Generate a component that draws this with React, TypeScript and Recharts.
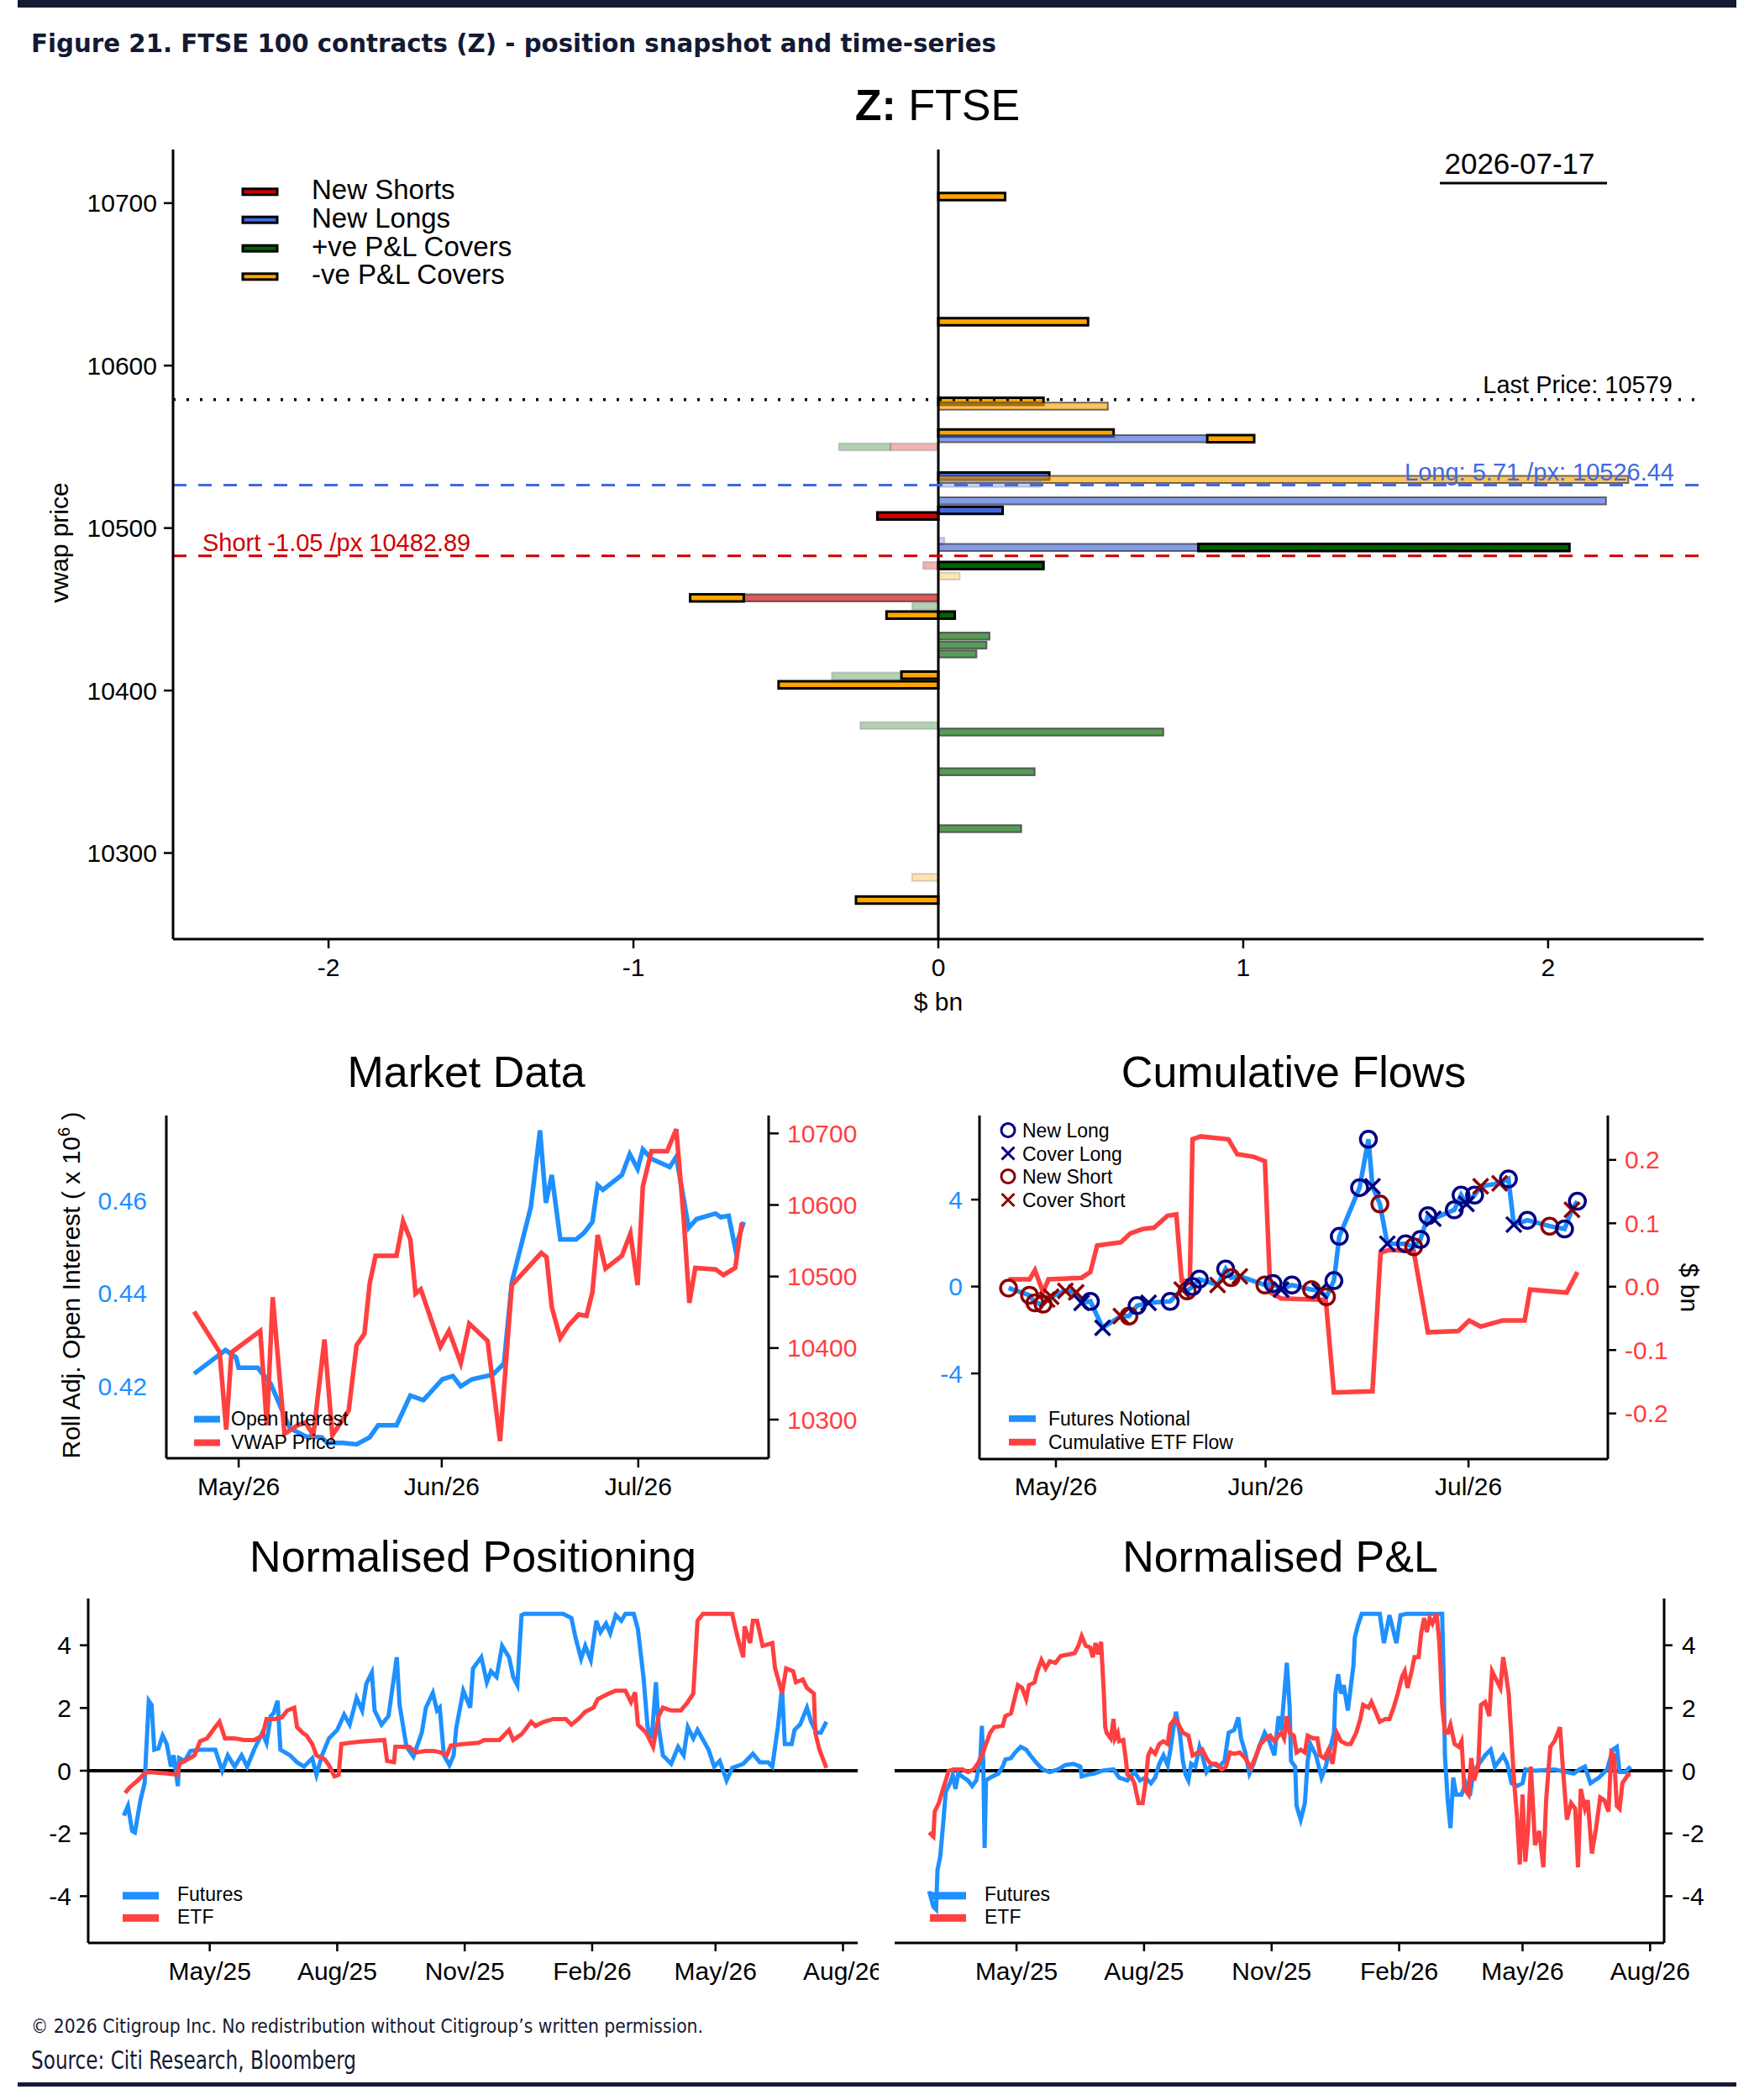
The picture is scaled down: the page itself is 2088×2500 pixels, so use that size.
import React from "react";
import {
  ComposedChart,
  LineChart,
  Line,
  XAxis,
  YAxis,
  ReferenceLine,
  ReferenceArea,
} from "recharts";

const FONT = '"Liberation Sans", Arial, Helvetica, sans-serif';
const NARROW = '"Liberation Sans Narrow", "DejaVu Sans Condensed", "Liberation Sans", sans-serif';
const NAVY = "#141a33";
const BLUE = "#1E90FF";
const RED = "#FF4040";
const NAVY_MK = "#000080";
const DARKRED = "#8B0000";

// ---- snapshot: position buckets by vwap price ($ bn) ----
const lastPrice = 10579;
const longVwap = 10526.44;
const shortVwap = 10482.89;
const snapshotDate = "2026-07-17";

const snapKinds = ["New Shorts", "New Longs", "+ve P&L Covers", "-ve P&L Covers"];
const kindColors = ["#CC0000", "#4169E1", "#006400", "#FFA500"];

// kind index into snapKinds, age 0 = latest day, 1 = recent, 2 = older
const snapPrice = [10704, 10627, 10578, 10575, 10558.5, 10555, 10555, 10550, 10550, 10532, 10530, 10527.5, 10516.7, 10511, 10507.5, 10492, 10488, 10488, 10477, 10477, 10470.5, 10457, 10457, 10452, 10446.5, 10446.5, 10433.5, 10428, 10422.5, 10409, 10409.5, 10403.5, 10378.5, 10374.5, 10350, 10315, 10285, 10271];
const snapFrom = [0, 0, 0, 0, 0, 0, 0.882, -0.157, -0.326, 0, 0, 0, 0, 0, -0.2, 0, 0, 0.853, -0.05, 0, 0, -0.638, -0.814, -0.086, -0.17, 0, 0, 0, 0, -0.349, -0.121, -0.524, -0.256, 0, 0, 0, -0.086, -0.27];
const snapTo = [0.219, 0.491, 0.345, 0.556, 0.575, 0.882, 1.036, 0, -0.157, 0.364, 2.263, 0.336, 2.19, 0.211, 0, 0.02, 0.853, 2.07, 0, 0.345, 0.07, 0, -0.638, 0, 0, 0.054, 0.168, 0.158, 0.125, 0, 0, 0, 0, 0.738, 0.316, 0.272, 0, 0];
const snapKind = [3, 3, 3, 3, 3, 1, 3, 0, 2, 1, 3, 1, 1, 1, 0, 1, 1, 2, 0, 2, 3, 0, 3, 2, 3, 2, 2, 2, 2, 2, 3, 3, 2, 2, 2, 2, 3, 3];
const snapAge = [0, 0, 0, 1, 0, 1, 0, 2, 2, 0, 1, 2, 1, 0, 0, 2, 1, 0, 2, 0, 2, 1, 0, 2, 0, 0, 1, 1, 1, 2, 0, 0, 2, 1, 1, 1, 2, 0];

const snapXTicks = [-2, -1, 0, 1, 2];
const snapYTicks = [10300, 10400, 10500, 10600, 10700];

const SNAP_HALF = 2.2; // half bar thickness in price points
const AGE_ALPHA = [1, 0.65, 0.3];
const AGE_STROKE = ["#000", "#333", "#888"];
const AGE_STROKE_ALPHA = [1, 0.7, 0.35];
const AGE_STROKE_W = [3, 2, 2];

// ---- market data (x = days from 1 May 2026) ----
const SHORT_BASE = "2026-05-01";
const shortTickDates = ["2026-05-01", "2026-06-01", "2026-07-01"];
const shortTickLabels = ["May/26", "Jun/26", "Jul/26"];

const openInterest: [number, number][] = [
  [-6.8, 0.4227], [-2.0, 0.4278], [-0.4, 0.4262], [0.0, 0.424], [2.9, 0.424], [4.9, 0.4205],
  [7.8, 0.411], [10.2, 0.4092], [12.7, 0.409], [13.5, 0.4078], [15.9, 0.4078], [18.0, 0.4075],
  [20.0, 0.409], [21.3, 0.4116], [24.1, 0.4116], [26.2, 0.418], [28.2, 0.417], [31.1, 0.4215],
  [32.7, 0.4222], [33.9, 0.42], [35.6, 0.4215], [38.8, 0.4225], [40.5, 0.4249], [41.7, 0.4424],
  [44.6, 0.4586], [46.0, 0.4751], [46.9, 0.4595], [47.8, 0.4655], [49.1, 0.4516], [51.5, 0.4516],
  [52.7, 0.453], [54.0, 0.4554], [54.8, 0.4633], [55.6, 0.4623], [58.5, 0.4655], [59.7, 0.47],
  [60.9, 0.4668], [61.7, 0.471], [63.0, 0.469], [65.8, 0.4672], [66.8, 0.4694], [68.7, 0.4541],
  [69.9, 0.456], [72.8, 0.4572], [73.6, 0.4564], [74.8, 0.4567], [75.8, 0.4497], [77.1, 0.4554],
];

const vwapPrice: [number, number][] = [
  [-6.8, 10451], [-3.7, 10406], [-2.9, 10394], [-1.9, 10286], [-1.1, 10394], [3.3, 10424],
  [4.3, 10292], [5.2, 10471], [7.0, 10280], [9.0, 10292], [10.2, 10296], [11.4, 10278],
  [13.1, 10412], [14.3, 10278], [16.8, 10313], [18.0, 10404], [19.2, 10420], [20.0, 10490],
  [20.9, 10529], [24.1, 10529], [25.1, 10577], [26.2, 10552], [27.0, 10476], [27.8, 10482],
  [30.8, 10402], [32.1, 10424], [33.9, 10379], [35.2, 10434], [38.0, 10410], [39.9, 10270],
  [41.7, 10488], [46.2, 10533], [47.0, 10527], [47.8, 10457], [49.1, 10414], [50.3, 10431],
  [51.9, 10447], [53.1, 10445], [54.0, 10478], [54.8, 10558], [56.0, 10511], [58.5, 10529],
  [59.8, 10560], [60.9, 10488], [61.7, 10626], [63.0, 10675], [65.4, 10675], [66.8, 10706],
  [67.9, 10585], [68.8, 10463], [69.7, 10512], [72.8, 10510], [74.0, 10502], [75.8, 10512],
  [76.8, 10575],
];

// ---- cumulative flows: futures notional with trade type, ETF flow ($ bn) ----
const flowTypes = ["New Long", "Cover Long", "New Short", "Cover Short"];
const futuresNotional: [number, number, number][] = [
  [-7.0, -0.07, 2], [-3.9, -0.4, 2], [-3.1, -0.75, 2], [-1.9, -0.81, 2], [-1.3, -0.6, 3],
  [-0.7, -0.47, 3], [1.4, -0.2, 3], [3.0, -0.27, 3], [3.8, -0.75, 1], [5.1, -0.68, 0],
  [6.9, -1.9, 1], [9.6, -1.36, 3], [10.8, -1.36, 2], [12.0, -0.88, 0], [13.7, -0.75, 1],
  [16.9, -0.68, 0], [18.6, -0.14, 3], [19.4, -0.2, 2], [20.2, 0.0, 0], [21.2, 0.34, 0],
  [23.9, 0.07, 3], [25.1, 0.81, 0], [25.9, 0.41, 2], [27.2, 0.47, 3], [30.9, 0.07, 2],
  [32.1, 0.14, 0], [33.3, -0.14, 1], [34.9, 0.07, 0], [37.8, -0.14, 2], [39.0, -0.2, 1],
  [40.0, -0.47, 2], [41.1, 0.27, 0], [41.9, 2.31, 0], [44.9, 4.55, 0], [46.2, 6.78, 0],
  [46.8, 4.61, 1], [47.9, 3.8, 2], [49.0, 1.97, 1], [51.7, 1.97, 0], [52.9, 1.83, 2],
  [53.9, 2.17, 0], [55.0, 3.26, 0], [55.8, 3.12, 1], [58.9, 3.53, 0], [59.9, 4.21, 0],
  [60.7, 3.8, 1], [61.9, 4.21, 0], [62.8, 4.61, 3], [65.6, 4.75, 3], [66.9, 4.95, 0],
  [67.7, 2.85, 1], [69.7, 3.05, 0], [73.0, 2.78, 2], [75.2, 2.65, 0], [76.3, 3.53, 3],
  [77.1, 3.93, 0],
];

const etfFlow: [number, number][] = [
  [-7.0, 0.0116], [-3.9, 0.0116], [-3.1, 0.026], [-1.9, -0.009], [-1.1, 0.0116], [3.8, 0.014],
  [5.1, 0.023], [6.1, 0.065], [9.6, 0.07], [11.0, 0.084], [12.8, 0.091], [14.5, 0.093],
  [16.5, 0.112], [17.8, 0.114], [18.6, 0.0093], [19.8, 0.0093], [20.2, 0.2326], [21.4, 0.237],
  [25.5, 0.2326], [26.8, 0.209], [29.2, 0.205], [30.9, 0.198], [31.7, -0.009], [33.3, -0.0186],
  [39.9, -0.021], [41.1, -0.167], [46.8, -0.165], [48.0, 0.0535], [49.3, 0.058], [52.9, 0.056],
  [55.0, -0.072], [59.5, -0.07], [61.1, -0.0535], [62.8, -0.063], [66.0, -0.0535], [69.3, -0.0535],
  [70.1, -0.0047], [75.5, -0.0093], [77.1, 0.023],
];

// ---- normalised series (x = days from 1 May 2025) ----
const LONG_BASE = "2025-05-01";
const longTickDates = ["2025-05-01", "2025-08-01", "2025-11-01", "2026-02-01", "2026-05-01", "2026-08-01"];
const longTickLabels = ["May/25", "Aug/25", "Nov/25", "Feb/26", "May/26", "Aug/26"];

const posFutures: [number, number][] = [
  [-62, -1.43], [-59, -1.12], [-56, -1.92], [-54, -1.97], [-50, -0.94], [-47, -0.4], [-44, 2.23],
  [-42, 2.1], [-40, 0.67], [-37, 0.71], [-34, 1.12], [-31, 0.85], [-28, 0.13], [-26, 0.49],
  [-23, -0.49], [-22, 0.4], [-18, 0.31], [-14, 0.63], [-7, 0.67], [4, 0.67], [9, 0], [13, 0.49],
  [18, 0.13], [23, 0.49], [27, 0.13], [32, 0.67], [38, 1.21], [41, 0.89], [44, 1.74], [46, 1.83],
  [49, 2.23], [51, 0.67], [58, 0.49], [63, 0.27], [68, 0.13], [74, 0.4], [77, -0.13], [81, 0.49],
  [86, 1.03], [92, 1.3], [97, 1.79], [101, 1.47], [106, 2.32], [110, 1.92], [113, 2.77], [117, 3.13],
  [119, 1.92], [124, 1.47], [129, 1.74], [135, 3.62], [137, 2.1], [142, 0.76], [147, 0.45],
  [153, 1.21], [156, 2.01], [161, 2.48], [164, 1.92], [166, 2.01], [169, 0.49], [173, 0.18],
  [176, 0.49], [178, 1.39], [183, 2.55], [188, 2.01], [190, 3.26], [196, 3.62], [200, 2.82],
  [203, 3.17], [207, 2.99], [211, 3.98], [216, 3.62], [219, 2.99], [222, 2.73], [225, 4.96],
  [227, 5.0], [255, 5.0], [261, 4.87], [264, 4.24], [268, 3.57], [271, 3.98], [275, 3.53],
  [279, 4.78], [282, 4.42], [286, 4.69], [289, 4.38], [293, 4.96], [297, 4.78], [300, 5.0],
  [306, 5.0], [309, 4.51], [313, 2.99], [316, 1.39], [319, 1.03], [322, 2.82], [324, 1.39],
  [327, 0.49], [333, 0.22], [338, 0.76], [342, 0.49], [345, 1.39], [349, 1.03], [352, 1.3],
  [360, 0.67], [364, 0.13], [368, 0.31], [373, -0.31], [377, 0.09], [385, 0.22], [392, 0.54],
  [397, 0.27], [403, 0.27], [406, 0.13], [410, 1.39], [413, 2.64], [415, 0.85], [420, 0.85],
  [422, 1.3], [426, 1.47], [431, 2.01], [434, 1.56], [438, 1.21], [441, 1.21], [445, 1.56],
];

const posEtf: [number, number][] = [
  [-61, -0.71], [-58, -0.54], [-52, -0.31], [-47, -0.09], [-45, -0.04], [-31, -0.09], [-23, -0.13],
  [-22, 0.22], [-16, 0.36], [-11, 0.49], [-7, 0.94], [-2, 1.03], [4, 1.39], [7, 1.56], [11, 1.03],
  [18, 1.03], [25, 0.98], [32, 0.98], [38, 1.12], [41, 1.65], [47, 1.65], [52, 1.7], [56, 1.92],
  [61, 2.01], [63, 1.39], [67, 1.21], [70, 1.12], [74, 0.85], [77, 0.49], [83, 0.36], [86, 0.18],
  [90, -0.18], [93, -0.13], [95, 0.85], [101, 0.89], [111, 0.94], [126, 0.98], [128, 0.31],
  [133, 0.27], [134, 0.76], [144, 0.76], [149, 0.58], [155, 0.63], [162, 0.63], [167, 0.58],
  [171, 0.49], [174, 0.8], [183, 0.85], [194, 0.89], [198, 0.98], [209, 0.98], [216, 1.3],
  [219, 0.98], [225, 1.16], [232, 1.56], [235, 1.43], [241, 1.56], [248, 1.65], [257, 1.65],
  [261, 1.47], [266, 1.65], [271, 1.88], [277, 2.01], [280, 2.28], [288, 2.46], [293, 2.55],
  [300, 2.55], [304, 2.19], [307, 2.5], [309, 1.47], [315, 1.21], [320, 0.76], [324, 1.74],
  [327, 2.01], [333, 1.92], [340, 1.92], [345, 2.19], [349, 2.46], [352, 4.78], [356, 5.0],
  [377, 5.0], [381, 4.24], [385, 3.62], [386, 4.6], [390, 4.07], [392, 4.78], [395, 4.78],
  [399, 3.98], [406, 4.07], [408, 3.26], [412, 2.64], [413, 2.46], [416, 3.26], [421, 3.17],
  [423, 2.82], [428, 2.91], [431, 2.64], [436, 2.46], [437, 1.21], [440, 0.67], [445, 0.09],
];

const pnlFutures: [number, number][] = [
  [-63, -3.84], [-60, -4.33], [-58, -4.42], [-57, -3.17], [-55, -2.73], [-53, -1.74], [-51, -0.67],
  [-48, -0.4], [-46, -0.13], [-44, -0.58], [-42, -0.09], [-38, -0.22], [-35, -0.31], [-32, -0.49],
  [-29, -0.31], [-26, 0.45], [-25, 1.43], [-24, 0.31], [-23, -2.46], [-22, -0.31], [-19, -0.22],
  [-13, -0.09], [-10, 0.13], [-8, 0.36], [-4, 0.4], [-1, 0.58], [3, 0.76], [7, 0.67], [10, 0.49],
  [14, 0.27], [19, 0.04], [24, -0.04], [30, 0.04], [35, 0.18], [41, 0.22], [46, 0.13], [47, -0.18],
  [51, -0.13], [56, -0.09], [62, 0], [70, 0.04], [74, -0.22], [80, -0.31], [85, -0.04], [89, -0.31],
  [93, -0.22], [97, -0.4], [100, -0.22], [103, 0.22], [106, 0.49], [109, 0.18], [111, 0.67],
  [113, 1.3], [115, 1.88], [118, 1.12], [120, 0.31], [122, -0.13], [124, -0.31], [126, 0.22],
  [129, 0.13], [132, 0.76], [134, 0.49], [137, -0.04], [141, 0.22], [146, 0.13], [150, 0.31],
  [153, 1.21], [157, 1.3], [160, 1.7], [162, 1.03], [165, 0.58], [168, -0.09], [171, 0.22],
  [175, 0.76], [179, 1.21], [182, 0.98], [186, 0.49], [189, 1.74], [191, 1.3], [195, 3.44],
  [197, 2.01], [198, 0.31], [201, 0.13], [202, -1.12], [205, -1.56], [208, -1.03], [210, 0.31],
  [212, 0.85], [216, 0.49], [220, -0.22], [223, 0.13], [226, 0.67], [229, 1.21], [230, 2.46],
  [232, 3.08], [234, 2.46], [236, 2.73], [239, 1.92], [241, 2.64], [243, 3.35], [244, 4.24],
  [246, 4.6], [249, 5.0], [262, 5.0], [265, 4.07], [267, 4.51], [269, 4.96], [271, 4.6],
  [274, 4.07], [277, 4.96], [281, 5.0], [307, 5.0], [308, 3.17], [309, 0.49], [311, -0.94],
  [313, -1.83], [315, -0.22], [317, -0.76], [321, -0.76], [324, -0.4], [327, -0.8], [329, -0.22],
  [332, 0.13], [335, 0.31], [338, 0.49], [342, 0.67], [345, 0.13], [348, 0.31], [351, 0.49],
  [354, 0.22], [357, -0.4], [361, -0.49], [365, -0.4], [367, 0.04], [374, 0], [388, 0.04],
  [402, -0.09], [406, 0.04], [410, 0.13], [414, -0.4], [420, -0.22], [426, 0.04], [430, 0.67],
  [433, 0.76], [435, -0.04], [439, -0.04], [443, 0.13],
];

const pnlEtf: [number, number][] = [
  [-63, -1.97], [-60, -2.1], [-59, -1.3], [-56, -1.03], [-53, -0.58], [-51, -0.31], [-49, 0],
  [-45, 0.04], [-39, 0.04], [-35, -0.04], [-31, 0.04], [-28, 0.22], [-25, 0.49], [-22, 0.85],
  [-19, 1.21], [-16, 1.39], [-10, 1.43], [-8, 1.74], [-4, 1.83], [-2, 2.19], [1, 2.73], [4, 2.64],
  [7, 2.28], [9, 2.73], [13, 2.82], [15, 3.17], [18, 3.53], [21, 3.26], [24, 3.49], [28, 3.44],
  [32, 3.66], [38, 3.71], [42, 3.75], [45, 4.02], [47, 4.29], [50, 3.98], [53, 3.93], [55, 3.62],
  [57, 4.07], [59, 3.71], [61, 4.11], [63, 2.46], [64, 1.39], [65, 1.21], [68, 1.03], [70, 1.65],
  [71, 1.03], [73, 1.21], [74, 0.94], [77, 0.98], [79, 0.31], [80, -0.13], [83, -0.22], [85, -0.4],
  [88, -1.03], [91, -1.03], [93, -0.4], [95, 0.49], [97, 0.67], [100, 0.54], [103, 0.85], [106, 0.94],
  [109, 0.85], [111, 1.47], [114, 1.65], [117, 1.47], [120, 1.21], [124, 1.12], [127, 0.49],
  [131, 0.58], [134, 0.67], [137, 0.4], [140, 0.22], [144, 0.22], [148, 0.04], [151, 0.13],
  [154, 0.58], [157, 0.54], [161, 0.58], [165, 0.4], [169, 0.09], [172, 0.4], [176, 0.85],
  [180, 1.03], [183, 1.12], [186, 0.94], [189, 1.12], [191, 1.21], [193, 1.03], [195, 1.74],
  [197, 1.21], [200, 1.12], [202, 0.58], [205, 0.67], [208, 0.58], [210, 1.12], [214, 1.03],
  [217, 1.03], [219, 0.49], [222, 0.4], [225, 0.67], [228, 0.22], [231, 1.21], [234, 0.94],
  [238, 0.85], [241, 0.85], [245, 1.21], [248, 1.65], [250, 2.1], [254, 2.01], [256, 2.19],
  [259, 1.88], [262, 1.56], [266, 1.65], [269, 1.65], [272, 2.01], [275, 2.46], [278, 2.99],
  [280, 3.17], [282, 2.64], [285, 3.17], [287, 3.62], [290, 3.62], [292, 4.42], [294, 4.87],
  [296, 4.42], [298, 4.87], [300, 4.69], [303, 5.0], [305, 4.07], [307, 2.1], [309, 1.21],
  [311, 1.21], [313, 1.47], [316, 0.85], [319, 0.76], [321, 0.94], [323, -0.58], [326, -0.76],
  [328, 0.4], [330, -0.31], [333, 0.13], [335, 2.1], [338, 2.19], [341, 1.74], [343, 3.17],
  [346, 2.9], [349, 2.64], [351, 3.62], [353, 3.08], [355, 2.46], [357, 1.03], [359, -0.4],
  [361, -1.47], [363, -2.99], [365, -0.76], [367, -2.9], [369, -1.83], [371, 0.13], [374, -2.37],
  [377, -1.92], [380, -3.08], [382, -0.94], [385, 0.76], [388, 0.94], [392, 1.39], [394, 0.13],
  [397, -1.56], [400, -1.03], [403, -1.21], [405, -3.08], [407, -0.58], [410, -1.21], [412, -0.94],
  [415, -2.64], [418, -1.83], [421, -0.85], [424, -0.94], [427, -1.3], [429, 0.58], [431, 0.49],
  [433, -1.12], [435, -1.21], [437, -0.4], [441, -0.13], [443, -0.13],
];

// ---- helpers ----
const dayNum = (iso: string, base: string) =>
  Math.round((Date.parse(iso) - Date.parse(base)) / 86400000);
const shortTicks = shortTickDates.map((d) => dayNum(d, SHORT_BASE));
const longTicks = longTickDates.map((d) => dayNum(d, LONG_BASE));
const fmtShort = (v: number) => shortTickLabels[shortTicks.indexOf(v)] ?? "";
const fmtLong = (v: number) => longTickLabels[longTicks.indexOf(v)] ?? "";
const rows = (pairs: [number, number][]) => pairs.map(([d, v]) => ({ d, v }));

const AX = { stroke: "#000", strokeWidth: 3 };
const TL = { stroke: "#000", strokeWidth: 2.5 };

function LineNote({ viewBox, text, fill, anchor, inset, dy }: any) {
  if (!viewBox) return null;
  const x = anchor === "end" ? viewBox.x + viewBox.width - inset : viewBox.x + inset;
  return (
    <text x={x} y={viewBox.y + dy} textAnchor={anchor} fill={fill} fontSize={29} fontFamily={FONT}>
      {text}
    </text>
  );
}

function FlowMarker(props: any) {
  const { cx, cy, payload, index } = props;
  if (cx == null || cy == null) return null;
  const t = payload.t;
  const col = t < 2 ? NAVY_MK : DARKRED;
  if (t === 0 || t === 2) {
    return <circle key={index} cx={cx} cy={cy} r={9.5} fill="none" stroke={col} strokeWidth={3.5} />;
  }
  const s = 9;
  return (
    <path
      key={index}
      d={`M${cx - s},${cy - s}L${cx + s},${cy + s}M${cx - s},${cy + s}L${cx + s},${cy - s}`}
      stroke={col}
      strokeWidth={3.5}
      fill="none"
    />
  );
}

function MarkerGlyph({ x, y, t }: { x: number; y: number; t: number }) {
  const col = t < 2 ? NAVY_MK : DARKRED;
  if (t === 0 || t === 2) return <circle cx={x} cy={y} r={8} fill="none" stroke={col} strokeWidth={3} />;
  const s = 7.5;
  return (
    <path d={`M${x - s},${y - s}L${x + s},${y + s}M${x - s},${y + s}L${x + s},${y - s}`} stroke={col} strokeWidth={3} />
  );
}

export default function App() {
  const snapRows = snapPrice.map((price, i) => ({ price, value: snapTo[i] }));
  const flowRows = futuresNotional.map(([d, v, t]) => ({ d, v, t }));
  const tickBlack = { fontSize: 30, fill: "#000", fontFamily: FONT };

  return (
    <div
      style={{
        position: "absolute",
        left: 0,
        top: 0,
        width: 2088,
        height: 2500,
        background: "#fff",
        overflow: "hidden",
        fontFamily: FONT,
      }}
    >
      {/* snapshot */}
      <div style={{ position: "absolute", left: 0, top: 0 }}>
        <ComposedChart
          layout="vertical"
          width={2088}
          height={1230}
          data={snapRows}
          margin={{ top: 178, right: 60, bottom: 0, left: 0 }}
        >
          <XAxis
            type="number"
            domain={[-2.51, 2.51]}
            ticks={snapXTicks}
            allowDataOverflow
            interval={0}
            height={112}
            tickSize={11}
            tickMargin={12}
            axisLine={AX}
            tickLine={TL}
            tick={tickBlack}
          />
          <YAxis
            type="number"
            dataKey="price"
            reversed
            domain={[10247, 10733]}
            ticks={snapYTicks}
            allowDataOverflow
            interval={0}
            width={206}
            tickSize={11}
            tickMargin={8}
            axisLine={AX}
            tickLine={TL}
            tick={tickBlack}
          />
          {snapPrice.map((p, i) => (
            <ReferenceArea
              key={i}
              x1={snapFrom[i]}
              x2={snapTo[i]}
              y1={p - SNAP_HALF}
              y2={p + SNAP_HALF}
              fill={kindColors[snapKind[i]]}
              fillOpacity={AGE_ALPHA[snapAge[i]]}
              stroke={AGE_STROKE[snapAge[i]]}
              strokeOpacity={AGE_STROKE_ALPHA[snapAge[i]]}
              strokeWidth={AGE_STROKE_W[snapAge[i]]}
              ifOverflow="visible"
            />
          ))}
          <ReferenceLine x={0} stroke="#000" strokeWidth={3} />
          <ReferenceLine
            y={lastPrice}
            stroke="#000"
            strokeWidth={3.5}
            strokeDasharray="3 13"
            label={<LineNote text={`Last Price: ${lastPrice}`} fill="#000" anchor="end" inset={37} dy={-8} />}
          />
          <ReferenceLine
            y={longVwap}
            stroke="#4169E1"
            strokeWidth={3}
            strokeDasharray="16 14"
            label={<LineNote text="Long: 5.71 /px: 10526.44" fill="#4169E1" anchor="end" inset={35} dy={-6} />}
          />
          <ReferenceLine
            y={shortVwap}
            stroke="#CC0000"
            strokeWidth={3}
            strokeDasharray="16 14"
            label={<LineNote text="Short -1.05 /px 10482.89" fill="#CC0000" anchor="start" inset={35} dy={-6} />}
          />
        </ComposedChart>
      </div>

      {/* market data */}
      <div style={{ position: "absolute", left: 0, top: 1300 }}>
        <LineChart width={1045} height={500} margin={{ top: 28, right: 30, bottom: 0, left: 0 }}>
          <XAxis
            type="number"
            dataKey="d"
            domain={[-11.04, 80.9]}
            ticks={shortTicks}
            tickFormatter={fmtShort}
            allowDataOverflow
            interval={0}
            height={64}
            tickSize={11}
            tickMargin={12}
            axisLine={AX}
            tickLine={TL}
            tick={tickBlack}
          />
          <YAxis
            yAxisId="oi"
            type="number"
            domain={[0.4045, 0.4783]}
            ticks={[0.42, 0.44, 0.46]}
            tickFormatter={(v: number) => v.toFixed(2)}
            allowDataOverflow
            interval={0}
            width={198}
            tickLine={false}
            tickSize={10}
            tickMargin={13}
            axisLine={AX}
            tick={{ fontSize: 30, fill: BLUE, fontFamily: FONT }}
          />
          <YAxis
            yAxisId="px"
            orientation="right"
            type="number"
            domain={[10246, 10725]}
            ticks={[10300, 10400, 10500, 10600, 10700]}
            allowDataOverflow
            interval={0}
            width={100}
            tickSize={12}
            tickMargin={10}
            axisLine={AX}
            tickLine={TL}
            tick={{ fontSize: 30, fill: RED, fontFamily: FONT }}
          />
          <Line yAxisId="oi" data={rows(openInterest)} dataKey="v" stroke={BLUE} strokeWidth={5.5} dot={false} isAnimationActive={false} />
          <Line yAxisId="px" data={rows(vwapPrice)} dataKey="v" stroke={RED} strokeWidth={5.5} dot={false} isAnimationActive={false} />
        </LineChart>
      </div>

      {/* cumulative flows */}
      <div style={{ position: "absolute", left: 1045, top: 1300 }}>
        <LineChart width={1043} height={500} margin={{ top: 28, right: 64, bottom: 0, left: 0 }}>
          <XAxis
            type="number"
            dataKey="d"
            domain={[-11.3, 81.6]}
            ticks={shortTicks}
            tickFormatter={fmtShort}
            allowDataOverflow
            interval={0}
            height={63}
            tickSize={10}
            tickMargin={12}
            axisLine={AX}
            tickLine={TL}
            tick={tickBlack}
          />
          <YAxis
            yAxisId="fut"
            type="number"
            domain={[-7.94, 7.87]}
            ticks={[-4, 0, 4]}
            allowDataOverflow
            interval={0}
            width={121}
            tickSize={10}
            tickMargin={10}
            axisLine={AX}
            tickLine={TL}
            tick={{ fontSize: 30, fill: BLUE, fontFamily: FONT }}
          />
          <YAxis
            yAxisId="etf"
            orientation="right"
            type="number"
            domain={[-0.272, 0.27]}
            ticks={[-0.2, -0.1, 0, 0.1, 0.2]}
            tickFormatter={(v: number) => v.toFixed(1)}
            allowDataOverflow
            interval={0}
            width={110}
            tickSize={10}
            tickMargin={10}
            axisLine={AX}
            tickLine={TL}
            tick={{ fontSize: 30, fill: RED, fontFamily: FONT }}
          />
          <Line yAxisId="etf" data={rows(etfFlow)} dataKey="v" stroke={RED} strokeWidth={5.5} dot={false} isAnimationActive={false} />
          <Line
            yAxisId="fut"
            data={flowRows}
            dataKey="v"
            stroke={BLUE}
            strokeWidth={5.5}
            dot={(p: any) => <FlowMarker {...p} />}
            isAnimationActive={false}
          />
        </LineChart>
      </div>

      {/* normalised positioning */}
      <div style={{ position: "absolute", left: 0, top: 1880 }}>
        <LineChart width={1046} height={520} margin={{ top: 23, right: 25, bottom: 0, left: 0 }}>
          <XAxis
            type="number"
            dataKey="d"
            domain={[-87.7, 467.6]}
            ticks={longTicks}
            tickFormatter={fmtLong}
            allowDataOverflow
            interval={0}
            height={87}
            tickSize={10}
            tickMargin={13}
            axisLine={AX}
            tickLine={TL}
            tick={tickBlack}
          />
          <YAxis
            type="number"
            domain={[-5.49, 5.49]}
            ticks={[-4, -2, 0, 2, 4]}
            allowDataOverflow
            interval={0}
            width={105}
            tickSize={10}
            tickMargin={10}
            axisLine={AX}
            tickLine={TL}
            tick={tickBlack}
          />
          <ReferenceLine y={0} stroke="#000" strokeWidth={4} />
          <Line data={rows(posFutures)} dataKey="v" stroke={BLUE} strokeWidth={5} dot={false} isAnimationActive={false} />
          <Line data={rows(posEtf)} dataKey="v" stroke={RED} strokeWidth={5} dot={false} isAnimationActive={false} />
        </LineChart>
      </div>

      {/* normalised P&L */}
      <div style={{ position: "absolute", left: 1046, top: 1880 }}>
        <LineChart width={1042} height={520} margin={{ top: 23, right: 7, bottom: 0, left: 19 }}>
          <XAxis
            type="number"
            dataKey="d"
            domain={[-87.9, 467.1]}
            ticks={longTicks}
            tickFormatter={fmtLong}
            allowDataOverflow
            interval={0}
            height={87}
            tickSize={10}
            tickMargin={13}
            axisLine={AX}
            tickLine={TL}
            tick={tickBlack}
          />
          <YAxis
            orientation="right"
            type="number"
            domain={[-5.49, 5.49]}
            ticks={[-4, -2, 0, 2, 4]}
            allowDataOverflow
            interval={0}
            width={100}
            tickSize={10}
            tickMargin={11}
            axisLine={AX}
            tickLine={TL}
            tick={tickBlack}
          />
          <ReferenceLine y={0} stroke="#000" strokeWidth={4} />
          <Line data={rows(pnlFutures)} dataKey="v" stroke={BLUE} strokeWidth={5} dot={false} isAnimationActive={false} />
          <Line data={rows(pnlEtf)} dataKey="v" stroke={RED} strokeWidth={5} dot={false} isAnimationActive={false} />
        </LineChart>
      </div>

      {/* titles, legends, notes */}
      <svg
        width={2088}
        height={2500}
        style={{ position: "absolute", left: 0, top: 0, pointerEvents: "none" }}
        fontFamily={FONT}
      >
        <rect x={21} y={0} width={2046} height={9} fill={NAVY} />
        <text x={37} y={62} fontSize={31} fontWeight="bold" fill={NAVY} fontFamily={NARROW} textLength={1149} lengthAdjust="spacingAndGlyphs">
          Figure 21. FTSE 100 contracts (Z) - position snapshot and time-series
        </text>

        <text x={1116} y={143} fontSize={52} textAnchor="middle" fill="#000">
          <tspan fontWeight="bold">Z:</tspan>
          <tspan> FTSE</tspan>
        </text>
        <text x={1809} y={207} fontSize={35} textAnchor="middle" fill="#000">
          {snapshotDate}
        </text>
        <rect x={1714} y={216.5} width={199} height={3} fill="#000" />

        {snapKinds.map((k, i) => {
          const cy = [228.3, 261.7, 295.7, 329.3][i];
          return (
            <g key={k}>
              <rect x={289} y={cy - 3.5} width={41} height={7} fill={kindColors[i]} stroke="#000" strokeWidth={3} />
              <text x={371} y={[237, 270.5, 304.5, 338.3][i]} fontSize={33} fill="#000">
                {k}
              </text>
            </g>
          );
        })}

        <text transform="translate(81 646) rotate(-90)" fontSize={30} textAnchor="middle" fill="#000">
          vwap price
        </text>
        <text x={1117} y={1203} fontSize={30} textAnchor="middle" fill="#000">
          $ bn
        </text>

        <text x={555} y={1294} fontSize={52} textAnchor="middle" fill="#000">
          Market Data
        </text>
        <text x={1540} y={1294} fontSize={52} textAnchor="middle" fill="#000">
          Cumulative Flows
        </text>
        <text x={563} y={1871} fontSize={52} textAnchor="middle" fill="#000">
          Normalised Positioning
        </text>
        <text x={1524} y={1871} fontSize={52} textAnchor="middle" fill="#000">
          Normalised P&amp;L
        </text>

        <text transform="translate(95 1530) rotate(-90)" fontSize={30} textAnchor="middle" fill="#000">
          Roll Adj. Open Interest ( x 10
          <tspan dy={-12} fontSize={20}>6</tspan>
          <tspan dy={12}> )</tspan>
        </text>
        <text transform="translate(2001 1533) rotate(90)" fontSize={30} textAnchor="middle" fill="#000">
          $ bn
        </text>

        {/* market data legend */}
        <rect x={231} y={1685.5} width={31} height={8} fill={BLUE} />
        <rect x={231} y={1713.5} width={31} height={8} fill={RED} />
        <text x={275} y={1697} fontSize={23} fill="#000">Open Interest</text>
        <text x={275} y={1724.5} fontSize={23} fill="#000">VWAP Price</text>

        {/* flows legends */}
        {flowTypes.map((f, i) => {
          const base = [1354, 1381.5, 1409, 1437][i];
          return (
            <g key={f}>
              <MarkerGlyph x={1200} y={base - 8.5} t={i} />
              <text x={1217} y={base} fontSize={23} fill="#000">
                {f}
              </text>
            </g>
          );
        })}
        <rect x={1201} y={1684.8} width={32} height={8} fill={BLUE} />
        <rect x={1201} y={1712.8} width={32} height={8} fill={RED} />
        <text x={1248} y={1696.5} fontSize={23} fill="#000">Futures Notional</text>
        <text x={1248} y={1724.5} fontSize={23} fill="#000">Cumulative ETF Flow</text>

        {/* normalised legends */}
        <rect x={146} y={2252.3} width={43} height={9} fill={BLUE} />
        <rect x={146} y={2278.8} width={43} height={9} fill={RED} />
        <text x={211} y={2263} fontSize={23} fill="#000">Futures</text>
        <text x={211} y={2290} fontSize={23} fill="#000">ETF</text>
        <rect x={1107} y={2252.3} width={43} height={9} fill={BLUE} />
        <rect x={1107} y={2278.8} width={43} height={9} fill={RED} />
        <text x={1172} y={2263} fontSize={23} fill="#000">Futures</text>
        <text x={1172} y={2290} fontSize={23} fill="#000">ETF</text>

        {/* footer */}
        <text x={37} y={2420} fontSize={23} fill={NAVY} fontFamily={NARROW} textLength={800} lengthAdjust="spacingAndGlyphs">
          © 2026 Citigroup Inc. No redistribution without Citigroup’s written permission.
        </text>
        <text x={37} y={2463} fontSize={30} fill={NAVY} fontFamily={NARROW} textLength={387} lengthAdjust="spacingAndGlyphs">
          Source: Citi Research, Bloomberg
        </text>
        <rect x={21} y={2479} width={2046} height={5} fill={NAVY} />
      </svg>
    </div>
  );
}
